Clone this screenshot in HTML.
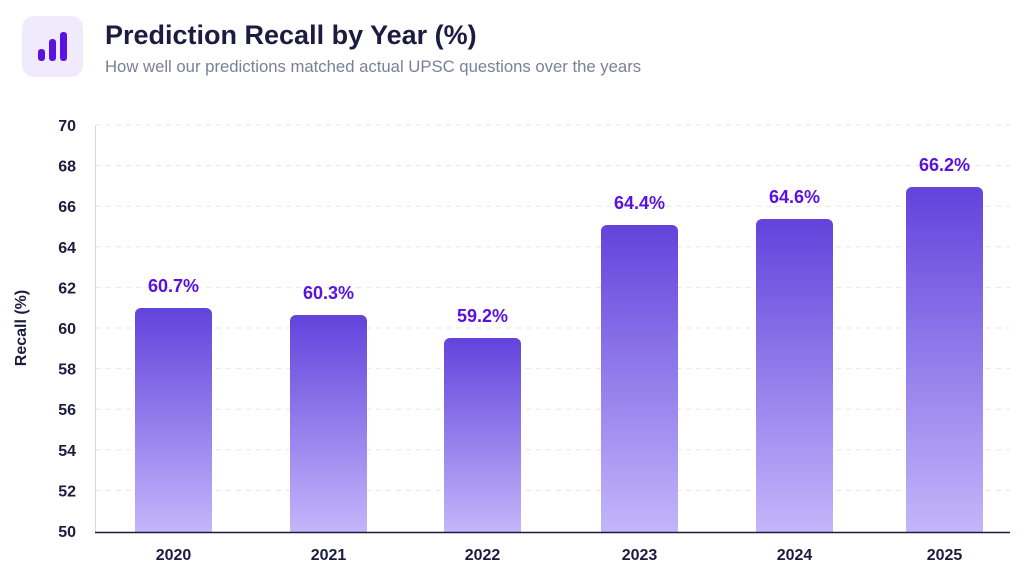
<!DOCTYPE html>
<html><head><meta charset="utf-8"><style>
body{margin:0;background:#fff;width:1033px;height:580px;overflow:hidden;font-family:"Liberation Sans",sans-serif}
</style></head><body>
<svg width="1033" height="580" viewBox="0 0 1033 580" xmlns="http://www.w3.org/2000/svg" font-family="Liberation Sans, sans-serif">
<defs><linearGradient id="g" x1="0" y1="0" x2="0" y2="1"><stop offset="0" stop-color="#6243dc"/><stop offset="1" stop-color="#c3b6fa"/></linearGradient></defs>
<rect x="22" y="16" width="61" height="61" rx="12" fill="#efebfd"/>
<rect x="38" y="49" width="7" height="12" rx="3" fill="#5a12e0"/>
<rect x="49" y="39" width="7" height="22" rx="3" fill="#5a12e0"/>
<rect x="60" y="32" width="7" height="29" rx="3" fill="#5a12e0"/>
<text x="105" y="44" font-size="27" font-weight="bold" fill="#1b1c3f">Prediction Recall by Year (%)</text>
<text x="105" y="72" font-size="16.7" fill="#7a7f9a">How well our predictions matched actual UPSC questions over the years</text>
<g stroke="#e6e6ee" stroke-dasharray="5,5" stroke-width="1">
<line x1="96" x2="1010" y1="125" y2="125"/><line x1="96" x2="1010" y1="165.6" y2="165.6"/><line x1="96" x2="1010" y1="206.2" y2="206.2"/><line x1="96" x2="1010" y1="246.8" y2="246.8"/><line x1="96" x2="1010" y1="287.4" y2="287.4"/><line x1="96" x2="1010" y1="328" y2="328"/><line x1="96" x2="1010" y1="368.6" y2="368.6"/><line x1="96" x2="1010" y1="409.2" y2="409.2"/><line x1="96" x2="1010" y1="449.8" y2="449.8"/><line x1="96" x2="1010" y1="490.4" y2="490.4"/>
</g>
<line x1="95.5" y1="125" x2="95.5" y2="532" stroke="#d8d8e2"/>
<g font-size="16" font-weight="bold" fill="#1b1c3f" text-anchor="end">
<text x="76" y="131">70</text><text x="76" y="171.6">68</text><text x="76" y="212.2">66</text><text x="76" y="252.8">64</text><text x="76" y="293.4">62</text><text x="76" y="334">60</text><text x="76" y="374.6">58</text><text x="76" y="415.2">56</text><text x="76" y="455.8">54</text><text x="76" y="496.4">52</text><text x="76" y="537">50</text>
</g>
<text transform="translate(26,328) rotate(-90)" font-size="16" font-weight="bold" fill="#1b1c3f" text-anchor="middle">Recall (%)</text>
<g fill="url(#g)">
<path d="M135 532V314a6 6 0 0 1 6-6h65a6 6 0 0 1 6 6V532z"/>
<path d="M290 532V321a6 6 0 0 1 6-6h65a6 6 0 0 1 6 6V532z"/>
<path d="M444 532V344a6 6 0 0 1 6-6h65a6 6 0 0 1 6 6V532z"/>
<path d="M601 532V231a6 6 0 0 1 6-6h65a6 6 0 0 1 6 6V532z"/>
<path d="M756 532V225a6 6 0 0 1 6-6h65a6 6 0 0 1 6 6V532z"/>
<path d="M906 532V193a6 6 0 0 1 6-6h65a6 6 0 0 1 6 6V532z"/>
</g>
<line x1="95" y1="532.5" x2="1010" y2="532.5" stroke="#1b1c3f" stroke-width="1.5"/>
<g font-size="18" font-weight="bold" fill="#5a12e0" text-anchor="middle">
<text x="173.5" y="292">60.7%</text><text x="328.5" y="299">60.3%</text><text x="482.5" y="322">59.2%</text><text x="639.5" y="209">64.4%</text><text x="794.5" y="203">64.6%</text><text x="944.5" y="171">66.2%</text>
</g>
<g font-size="16" font-weight="bold" fill="#1b1c3f" text-anchor="middle">
<text x="173.5" y="560">2020</text><text x="328.5" y="560">2021</text><text x="482.5" y="560">2022</text><text x="639.5" y="560">2023</text><text x="794.5" y="560">2024</text><text x="944.5" y="560">2025</text>
</g>
</svg>
</body></html>
